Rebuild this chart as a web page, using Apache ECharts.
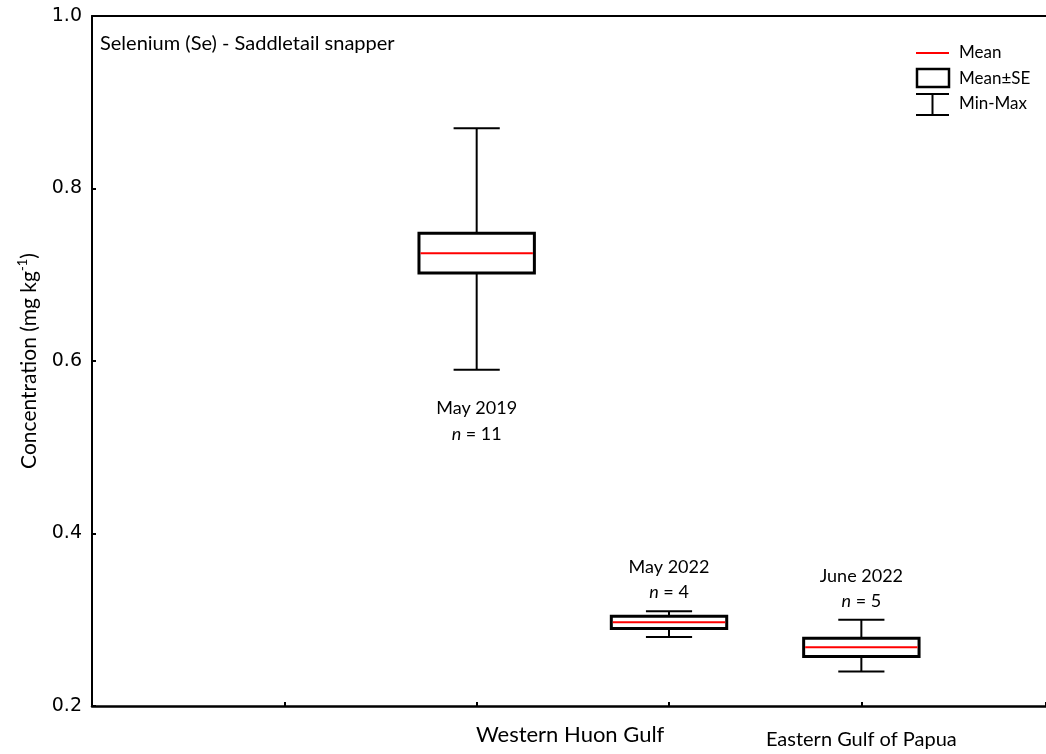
<!DOCTYPE html>
<html>
<head>
<meta charset="utf-8">
<title>Selenium (Se) - Saddletail snapper</title>
<script src="https://cdn.jsdelivr.net/npm/echarts@6/dist/echarts.min.js"></script>
<style>
  html, body { margin: 0; padding: 0; background: #fff; }
  #chart { width: 1046px; height: 754px; }
</style>
</head>
<body>
<div id="chart"></div>
<script>
// Sampling groups (one box each) and their summary statistics
const groups = ['May 2019', 'May 2022', 'June 2022'];
const groupX = [2, 3, 4];
const sampleSizes = [11, 4, 5];
const means = [0.725, 0.297, 0.268];
const stdErrors = [0.023, 0.007, 0.0105];
const mins = [0.59, 0.28, 0.24];
const maxs = [0.87, 0.31, 0.30];

// Site names written under the x axis
const siteNames = ['Western Huon Gulf', 'Eastern Gulf of Papua'];
const siteX = [2.486, 4.0];

// Y axis ticks
const yTicks = [0.2, 0.4, 0.6, 0.8, 1.0];

const LABEL_FONT = 'Lato, "Open Sans", sans-serif';
const TICK_FONT = '"DejaVu Sans", Verdana, sans-serif';

// Group labels go under the whiskers for the first box, above for the rest
const labelBelow = [true, false, false];

const boxData = groups.map((g, i) => [groupX[i], means[i], stdErrors[i], mins[i], maxs[i], sampleSizes[i]]);

function renderBox(params, api) {
  const i = params.dataIndex;
  const x = api.value(0), mean = api.value(1), se = api.value(2);
  const lo = api.value(3), hi = api.value(4), n = api.value(5);
  const halfBox = api.size([0.3, 0])[0];
  const halfCap = api.size([0.12, 0])[0];
  const pMean = api.coord([x, mean]);
  const pTop = api.coord([x, mean + se]);
  const pBot = api.coord([x, mean - se]);
  const pMin = api.coord([x, lo]);
  const pMax = api.coord([x, hi]);
  const cx = pMean[0];
  const black = { stroke: '#000', lineWidth: 2 };
  const children = [
    { type: 'line', shape: { x1: cx, y1: pMax[1], x2: cx, y2: pMin[1] }, style: black },
    { type: 'line', shape: { x1: cx - halfCap, y1: pMax[1], x2: cx + halfCap, y2: pMax[1] }, style: black },
    { type: 'line', shape: { x1: cx - halfCap, y1: pMin[1], x2: cx + halfCap, y2: pMin[1] }, style: black },
    { type: 'rect', shape: { x: cx - halfBox, y: pTop[1], width: halfBox * 2, height: pBot[1] - pTop[1] },
      style: { fill: '#fff', stroke: '#000', lineWidth: 3 } },
    { type: 'line', shape: { x1: cx - halfBox + 1.5, y1: pMean[1], x2: cx + halfBox - 1.5, y2: pMean[1] },
      style: { stroke: '#ff0000', lineWidth: 2 } }
  ];
  const nameY = labelBelow[i] ? pMin[1] + 39 : pMax[1] - 44;
  const nY = labelBelow[i] ? pMin[1] + 65 : pMax[1] - 19;
  children.push({
    type: 'text', x: cx, y: nameY,
    style: { text: groups[i], fontFamily: LABEL_FONT, fontSize: 18, fill: '#000', align: 'center', verticalAlign: 'middle' }
  });
  children.push({
    type: 'text', x: cx, y: nY,
    style: {
      text: '{i|n} = ' + n, fontFamily: LABEL_FONT, fontSize: 18, fill: '#000', align: 'center', verticalAlign: 'middle',
      rich: { i: { fontStyle: 'italic', fontFamily: LABEL_FONT, fontSize: 18, fill: '#000' } }
    }
  });
  return { type: 'group', children: children };
}

const chart = echarts.init(document.getElementById('chart'), null, { renderer: 'canvas' });

chart.setOption({
  animation: false,
  backgroundColor: '#fff',
  grid: { left: 92, top: 16, right: 0, bottom: 48, containLabel: false },
  xAxis: [{
    type: 'value', min: 0, max: 4.96, interval: 1,
    axisLine: { show: true, onZero: false, lineStyle: { color: '#000', width: 2.5 } },
    axisTick: { show: true, inside: true, length: 4, lineStyle: { color: '#000', width: 2 } },
    splitLine: { show: false },
    axisLabel: {
      show: true,
      customValues: siteX,
      margin: 18,
      fontFamily: LABEL_FONT, fontSize: 22, color: '#000',
      formatter: function (v) {
        const k = siteX.indexOf(v);
        if (k < 0) return '';
        return k === 0 ? '{a|' + siteNames[k] + '}' : '{b|' + siteNames[k] + '}';
      },
      rich: {
        a: { fontFamily: LABEL_FONT, fontSize: 22, color: '#000' },
        b: { fontFamily: LABEL_FONT, fontSize: 20, color: '#000', padding: [6, 0, 0, 0] }
      }
    }
  }, {
    type: 'value', position: 'top', min: 0, max: 4.96,
    axisLine: { show: true, onZero: false, lineStyle: { color: '#000', width: 2 } },
    axisTick: { show: false }, axisLabel: { show: false }, splitLine: { show: false }
  }],
  yAxis: {
    type: 'value', min: yTicks[0], max: yTicks[yTicks.length - 1], interval: 0.2,
    name: 'Concentration (mg kg{sup|-1})',
    nameLocation: 'middle', nameGap: 50, nameRotate: 90,
    nameTextStyle: {
      fontFamily: LABEL_FONT, fontSize: 21, color: '#000',
      rich: { sup: { fontFamily: LABEL_FONT, fontSize: 13, color: '#000', verticalAlign: 'top', lineHeight: 26 } }
    },
    axisLine: { show: true, onZero: false, lineStyle: { color: '#000', width: 2 } },
    axisTick: { show: true, inside: true, length: 4, lineStyle: { color: '#000', width: 2 } },
    splitLine: { show: false },
    axisLabel: {
      fontFamily: TICK_FONT, fontSize: 19, color: '#000', margin: 10,
      formatter: function (v) { return v.toFixed(1); }
    }
  },
  series: [{
    type: 'custom',
    renderItem: renderBox,
    encode: { x: 0, y: [1, 3, 4] },
    data: boxData,
    clip: false,
    z: 5
  }],
  graphic: [
    // Chart title inside the plot area
    { type: 'text', x: 100, y: 44,
      style: { text: 'Selenium (Se) - Saddletail snapper', fontFamily: LABEL_FONT, fontSize: 20, fill: '#000', verticalAlign: 'middle' } },
    // Legend: mean line, mean±SE box, min-max whisker
    { type: 'line', shape: { x1: 916, y1: 53, x2: 949, y2: 53 }, style: { stroke: '#ff0000', lineWidth: 2 } },
    { type: 'text', x: 959, y: 53, style: { text: 'Mean', fontFamily: LABEL_FONT, fontSize: 17, fill: '#000', verticalAlign: 'middle' } },
    { type: 'rect', shape: { x: 917, y: 69, width: 32, height: 18 }, style: { fill: '#fff', stroke: '#000', lineWidth: 2.5 } },
    { type: 'text', x: 959, y: 79, style: { text: 'Mean±SE', fontFamily: LABEL_FONT, fontSize: 17, fill: '#000', verticalAlign: 'middle' } },
    { type: 'line', shape: { x1: 916, y1: 94, x2: 949, y2: 94 }, style: { stroke: '#000', lineWidth: 2 } },
    { type: 'line', shape: { x1: 932.5, y1: 94, x2: 932.5, y2: 115 }, style: { stroke: '#000', lineWidth: 2 } },
    { type: 'line', shape: { x1: 916, y1: 115, x2: 949, y2: 115 }, style: { stroke: '#000', lineWidth: 2 } },
    { type: 'text', x: 959, y: 104, style: { text: 'Min-Max', fontFamily: LABEL_FONT, fontSize: 17, fill: '#000', verticalAlign: 'middle' } }
  ]
});
</script>
</body>
</html>
